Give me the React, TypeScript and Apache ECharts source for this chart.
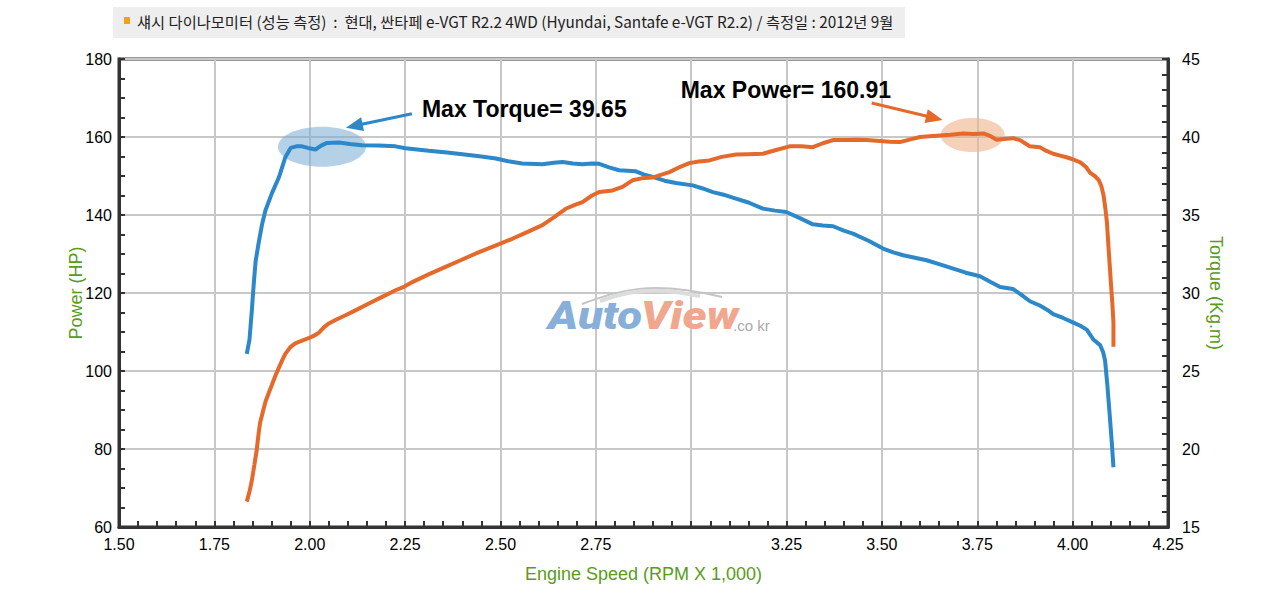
import React, { useEffect, useRef } from "react";
import * as echarts from "echarts";

// ---- data ----
const titleText =
  "섀시 다이나모미터 (성능 측정)  :  현대, 싼타페 e-VGT R2.2 4WD (Hyundai, Santafe e-VGT R2.2) / 측정일 : 2012년 9월";
const xTickLabels = ["1.50", "1.75", "2.00", "2.25", "2.50", "2.75", "", "3.25", "3.50", "3.75", "4.00", "4.25"];
const xAxisName = "Engine Speed (RPM X 1,000)";
const leftAxisName = "Power (HP)";
const rightAxisName = "Torque (Kg.m)";

const torqueRpm = [
  1.835, 1.842, 1.848, 1.853, 1.858, 1.866, 1.875, 1.884, 1.901, 1.919, 1.936, 1.95, 1.965, 1.98, 1.995, 2.015, 2.03,
  2.045, 2.076, 2.105, 2.137, 2.18, 2.225, 2.251, 2.312, 2.36, 2.4, 2.45, 2.488, 2.52, 2.557, 2.61, 2.64, 2.663, 2.69,
  2.715, 2.74, 2.759, 2.785, 2.811, 2.855, 2.875, 2.899, 2.93, 2.96, 3.004, 3.03, 3.057, 3.085, 3.109, 3.15, 3.188,
  3.22, 3.249, 3.285, 3.319, 3.345, 3.372, 3.4, 3.424, 3.465, 3.503, 3.53, 3.556, 3.617, 3.65, 3.687, 3.72, 3.757,
  3.785, 3.81, 3.844, 3.865, 3.888, 3.914, 3.935, 3.949, 3.975, 4.002, 4.02, 4.037, 4.055, 4.072, 4.08, 4.085, 4.091,
  4.098, 4.103, 4.107,
];
const torqueVal = [
  26.1, 27.0, 28.8, 30.5, 32.0, 33.2, 34.4, 35.3, 36.4, 37.4, 38.7, 39.3, 39.4, 39.4, 39.3, 39.2, 39.45, 39.62, 39.65,
  39.55, 39.47, 39.45, 39.4, 39.28, 39.12, 39.0, 38.9, 38.75, 38.62, 38.45, 38.3, 38.25, 38.35, 38.4, 38.3, 38.25,
  38.3, 38.28, 38.05, 37.87, 37.8, 37.6, 37.44, 37.2, 37.05, 36.9, 36.7, 36.47, 36.3, 36.11, 35.8, 35.41, 35.28, 35.19,
  34.8, 34.4, 34.33, 34.28, 34.0, 33.81, 33.35, 32.85, 32.6, 32.42, 32.1, 31.85, 31.56, 31.3, 31.07, 30.7, 30.38,
  30.25, 29.9, 29.47, 29.2, 28.9, 28.65, 28.4, 28.1, 27.9, 27.65, 27.0, 26.66, 26.2, 25.67, 24.11, 21.92, 20.3, 18.83,
];

const powerRpm = [
  1.835, 1.842, 1.848, 1.855, 1.861, 1.866, 1.87, 1.877, 1.884, 1.893, 1.901, 1.91, 1.919, 1.928, 1.936, 1.95, 1.962,
  1.98, 1.997, 2.01, 2.024, 2.037, 2.05, 2.07, 2.094, 2.125, 2.155, 2.19, 2.225, 2.245, 2.269, 2.31, 2.356, 2.4, 2.444,
  2.49, 2.531, 2.57, 2.61, 2.64, 2.671, 2.695, 2.715, 2.74, 2.759, 2.794, 2.82, 2.846, 2.87, 2.899, 2.92, 2.943, 2.97,
  2.995, 3.02, 3.048, 3.08, 3.118, 3.15, 3.188, 3.22, 3.258, 3.29, 3.319, 3.345, 3.372, 3.4, 3.433, 3.46, 3.494, 3.52,
  3.547, 3.575, 3.6, 3.625, 3.652, 3.68, 3.713, 3.74, 3.766, 3.785, 3.801, 3.82, 3.844, 3.862, 3.875, 3.888, 3.914,
  3.93, 3.949, 3.965, 3.984, 4.0, 4.02, 4.035, 4.046, 4.058, 4.068, 4.075, 4.081, 4.086, 4.09, 4.094, 4.097, 4.1,
  4.104, 4.107, 4.107,
];
const powerVal = [
  66.5, 69, 71.8, 76, 79.7, 84, 86.8, 89.5, 92.1, 94.5, 96.5, 98.8, 100.8, 102.8, 104.4, 106.2, 107.1, 107.8, 108.4,
  109.0, 109.8, 111.2, 112.2, 113.2, 114.3, 115.8, 117.3, 119.0, 120.7, 121.5, 122.8, 124.7, 126.7, 128.6, 130.5,
  132.3, 133.9, 135.6, 137.4, 139.4, 141.6, 142.6, 143.3, 145.0, 145.9, 146.3, 147.2, 148.9, 149.4, 149.6, 150.3,
  151.0, 152.3, 153.3, 153.7, 154.0, 154.9, 155.5, 155.6, 155.7, 156.6, 157.6, 157.6, 157.4, 158.4, 159.2, 159.2,
  159.3, 159.2, 159.0, 158.8, 158.7, 159.4, 160.0, 160.2, 160.4, 160.6, 160.9, 160.8, 160.9, 160.2, 159.3, 159.5,
  159.7, 159.2, 158.4, 157.6, 157.4, 156.5, 155.7, 155.3, 154.8, 154.3, 153.5, 152.3, 150.8, 150.0, 149.0, 147.5,
  145.1, 141.5, 138.0, 131.8, 127.5, 123.0, 117.5, 112.4, 106.2,
];

const maxTorqueText = "Max Torque= 39.65";
const maxPowerText = "Max Power= 160.91";
const torqueHighlight = [2.032, 39.38]; // rpm, kg.m
const powerHighlight = [3.738, 160.5]; // rpm, hp

const BLUE = "#2c88c9";
const ORANGE = "#e5692b";
const GREEN = "#5a9b1a";

function arrow(tail: number[], tip: number[], color: string, headLen: number, headW: number, width: number) {
  const dx = tip[0] - tail[0];
  const dy = tip[1] - tail[1];
  const len = Math.sqrt(dx * dx + dy * dy);
  const ux = dx / len;
  const uy = dy / len;
  const bx = tip[0] - ux * headLen;
  const by = tip[1] - uy * headLen;
  const nx = -uy;
  const ny = ux;
  return [
    {
      type: "line",
      z: 20,
      shape: { x1: tail[0], y1: tail[1], x2: bx + ux * 2, y2: by + uy * 2 },
      style: { stroke: color, lineWidth: width },
    },
    {
      type: "polygon",
      z: 20,
      shape: {
        points: [
          [tip[0], tip[1]],
          [bx + nx * headW, by + ny * headW],
          [bx - nx * headW, by - ny * headW],
        ],
      },
      style: { fill: color },
    },
  ];
}

export default function App() {
  const ref = useRef<HTMLDivElement>(null);
  useEffect(() => {
    document.body.style.margin = "0";
    const chart = echarts.init(ref.current!, null, { renderer: "svg" });
    const numFont = "'Liberation Sans', Arial, sans-serif";
    const option: any = {
      animation: false,
      backgroundColor: "#ffffff",
      grid: {
        left: 119,
        right: 112,
        top: 59,
        bottom: 73,
        show: true,
        borderColor: "#333",
        borderWidth: 3,
        backgroundColor: "transparent",
      },
      xAxis: {
        type: "value",
        min: 1.5,
        max: 4.25,
        interval: 0.25,
        axisLine: { show: true, onZero: false, lineStyle: { color: "#333", width: 3 } },
        axisTick: { show: true, inside: true, length: 6, lineStyle: { color: "#333", width: 2 } },
        minorTick: { show: true, splitNumber: 5, length: 6, lineStyle: { color: "#333", width: 2 } },
        splitLine: { show: true, lineStyle: { color: "#c8c8c8", width: 2 } },
        axisLabel: {
          color: "#000",
          fontSize: 16,
          fontFamily: numFont,
          margin: 9,
          formatter: (v: number) => xTickLabels[Math.round((v - 1.5) / 0.25)] ?? "",
        },
        name: xAxisName,
        nameLocation: "middle",
        nameGap: 38,
        nameMoveOverlap: false,
        nameTextStyle: { color: GREEN, fontSize: 18, fontFamily: numFont },
      },
      yAxis: [
        {
          type: "value",
          min: 60,
          max: 180,
          interval: 20,
          position: "left",
          axisLine: { show: true, lineStyle: { color: "#333", width: 3 } },
          axisTick: { show: true, inside: true, length: 6, lineStyle: { color: "#333", width: 2 } },
          minorTick: { show: true, splitNumber: 4, length: 6, lineStyle: { color: "#333", width: 2 } },
          splitLine: { show: true, lineStyle: { color: "#c8c8c8", width: 2 } },
          axisLabel: { color: "#000", fontSize: 16, fontFamily: numFont, margin: 7 },
          name: leftAxisName,
          nameLocation: "middle",
          nameGap: 34,
          nameMoveOverlap: false,
          nameTextStyle: { color: GREEN, fontSize: 18, fontFamily: numFont },
        },
        {
          type: "value",
          min: 15,
          max: 45,
          interval: 5,
          position: "right",
          axisLine: { show: true, lineStyle: { color: "#333", width: 3 } },
          axisTick: { show: true, inside: true, length: 6, lineStyle: { color: "#333", width: 2 } },
          minorTick: { show: true, splitNumber: 5, length: 6, lineStyle: { color: "#333", width: 2 } },
          splitLine: { show: false },
          axisLabel: { color: "#000", fontSize: 16, fontFamily: numFont, margin: 14 },
          name: rightAxisName,
          nameLocation: "middle",
          nameRotate: -90,
          nameGap: 39,
          nameMoveOverlap: false,
          nameTextStyle: { color: GREEN, fontSize: 18, fontFamily: numFont },
        },
      ],
      series: [
        {
          name: "Torque",
          type: "line",
          yAxisIndex: 1,
          showSymbol: false,
          z: 3,
          lineStyle: { color: BLUE, width: 4 },
          itemStyle: { color: BLUE },
          data: torqueRpm.map((r, i) => [r, torqueVal[i]]),
        },
        {
          name: "Power",
          type: "line",
          yAxisIndex: 0,
          showSymbol: false,
          z: 4,
          lineStyle: { color: ORANGE, width: 4 },
          itemStyle: { color: ORANGE },
          data: powerRpm.map((r, i) => [r, powerVal[i]]),
        },
      ],
    };
    chart.setOption(option);

    const tc = chart.convertToPixel({ xAxisIndex: 0, yAxisIndex: 1 }, torqueHighlight) as number[];
    const pc = chart.convertToPixel({ xAxisIndex: 0, yAxisIndex: 0 }, powerHighlight) as number[];

    const wmFont = "Roboto, 'DejaVu Sans', sans-serif";
    const graphics: any[] = [
      // title bar
      {
        type: "rect",
        z: 1,
        shape: { x: 113, y: 7, width: 792, height: 31 },
        style: { fill: "#eeeeee" },
      },
      { type: "rect", z: 2, shape: { x: 124, y: 17, width: 6, height: 7 }, style: { fill: "#f2a11f" } },
      {
        type: "text",
        z: 2,
        x: 137,
        y: 21,
        style: {
          text: titleText,
          fill: "#222",
          fontSize: 15.3,
          fontFamily: "'Noto Sans CJK KR', sans-serif",
          verticalAlign: "middle",
        },
      },
      // watermark swoosh
      {
        type: "bezierCurve",
        z: 1,
        shape: { x1: 582, y1: 304, x2: 722, y2: 297, cpx1: 620, cpy1: 290, cpx2: 650, cpy2: 280 },
        style: { stroke: "#c4c4c4", lineWidth: 2, fill: null },
      },
      {
        type: "bezierCurve",
        z: 1,
        shape: { x1: 600, y1: 301, x2: 700, y2: 296, cpx1: 630, cpy1: 290, cpx2: 655, cpy2: 287 },
        style: { stroke: "#dcdcdc", lineWidth: 4, fill: null },
      },
      // watermark text
      {
        type: "text",
        z: 1,
        x: 548,
        y: 335,
        scaleX: 1.2,
        style: {
          text: "Auto",
          fill: "#88afd8",
          fontSize: 38,
          fontWeight: 900,
          fontStyle: "italic",
          fontFamily: wmFont,
          verticalAlign: "bottom",
        },
      },
      {
        type: "text",
        z: 1,
        x: 641,
        y: 335,
        scaleX: 1.2,
        style: {
          text: "View",
          fill: "#f0a78d",
          fontSize: 38,
          fontWeight: 900,
          fontStyle: "italic",
          fontFamily: wmFont,
          verticalAlign: "bottom",
        },
      },
      {
        type: "text",
        z: 1,
        x: 733,
        y: 333,
        style: {
          text: ".co kr",
          fill: "#a9a9a9",
          fontSize: 15,
          fontFamily: "'Liberation Sans', sans-serif",
          verticalAlign: "bottom",
        },
      },
      // highlight ellipses
      {
        type: "ellipse",
        z: 1,
        shape: { cx: tc[0], cy: tc[1], rx: 44, ry: 20 },
        style: { fill: "rgba(120,172,214,0.55)" },
      },
      {
        type: "ellipse",
        z: 1,
        shape: { cx: pc[0], cy: pc[1], rx: 32, ry: 17 },
        style: { fill: "rgba(240,178,140,0.6)" },
      },
      // annotation texts
      {
        type: "text",
        z: 20,
        x: tc[0] + 100,
        y: tc[1] - 38,
        style: {
          text: maxTorqueText,
          fill: "#000",
          fontSize: 23,
          fontWeight: "bold",
          fontFamily: "'Liberation Sans', Arial, sans-serif",
          verticalAlign: "middle",
        },
      },
      {
        type: "text",
        z: 20,
        x: pc[0] - 292,
        y: pc[1] - 45,
        style: {
          text: maxPowerText,
          fill: "#000",
          fontSize: 23,
          fontWeight: "bold",
          fontFamily: "'Liberation Sans', Arial, sans-serif",
          verticalAlign: "middle",
        },
      },
      ...arrow([tc[0] + 90, tc[1] - 33], [tc[0] + 24, tc[1] - 19], BLUE, 17, 7, 3),
      ...arrow([pc[0] - 101, pc[1] - 32], [pc[0] - 30, pc[1] - 15], ORANGE, 17, 7, 3),
    ];
    chart.setOption({ graphic: graphics });

    return () => chart.dispose();
  }, []);
  return <div ref={ref} style={{ width: 1280, height: 600 }} />;
}
